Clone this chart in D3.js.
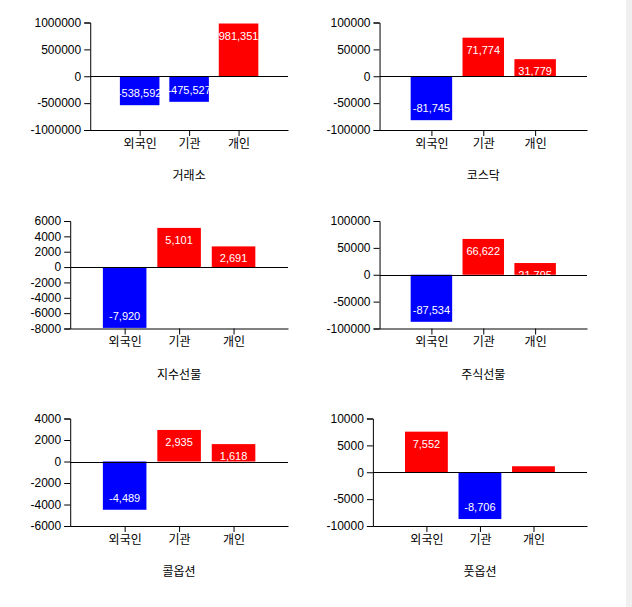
<!DOCTYPE html>
<html>
<head>
<meta charset="utf-8">
<script src="https://d3js.org/d3.v7.min.js"></script>
<style>
  body { margin: 0; overflow: hidden; background: #fff; }
  svg text { font-family: "Liberation Sans", "Noto Sans CJK KR", sans-serif; }
  .bar-label { fill: #fff; font-size: 11px; text-anchor: middle; }
  .scroll { position: fixed; right: 0; top: 0; width: 6px; height: 100%; background: #f0f0f0; }
</style>
</head>
<body>
<div id="charts"></div>
<div class="scroll"></div>
<script>
// categories
const investors = ['외국인', '기관', '개인'];
const markets = ['거래소', '코스닥', '지수선물', '주식선물', '콜옵션', '풋옵션'];

// net buying per investor, one array per market
const exchange = [-538592, -475527, 981351];
const kosdaq = [-81745, 71774, 31779];
const indexFutures = [-7920, 5101, 2691];
const stockFutures = [-87534, 66622, 21795];
const callOptions = [-4489, 2935, 1618];
const putOptions = [7552, -8706, 1117];

const series = [exchange, kosdaq, indexFutures, stockFutures, callOptions, putOptions];

// layout of the 2x3 grid
const colStart = [30, 326];
const colEnd = [288, 587];
const rowTop = [22.5, 221, 418.5];
const plotH = 107.5;

const svg = d3.select('#charts')
  .append('svg')
  .attr('width', 632)
  .attr('height', 607);

// plain hyphen for negatives, like the original
const locale = d3.formatLocale({
  decimal: '.',
  thousands: ',',
  grouping: [3],
  currency: ['', ''],
  minus: '-',
});
const fmt = locale.format(',');
const tickFmt = locale.format('d');

series.forEach((values, i) => {
  const col = i % 2;
  const row = Math.floor(i / 2);
  const top = rowTop[row];

  const y = d3.scaleLinear()
    .domain(d3.extent(values))
    .range([top + plotH, top])
    .nice(5);

  // y axis first so we can measure how much room the labels need
  const yAxis = svg.append('g')
    .call(d3.axisLeft(y).ticks(5).tickFormat(tickFmt));
  yAxis.selectAll('text').style('font-size', '12px').attr('fill', '#000');
  yAxis.select('.domain').attr('stroke', '#000');
  const left = colStart[col] + yAxis.node().getBBox().width;
  yAxis.attr('transform', `translate(${left},0)`);

  const x = d3.scalePoint()
    .domain(investors)
    .range([left, colEnd[col]])
    .padding(1);
  const barW = x.step() * 0.8;

  const data = investors.map((name, j) => ({ name, value: values[j] }));

  // bars
  svg.append('g')
    .selectAll('rect')
    .data(data)
    .join('rect')
    .attr('x', (d) => x(d.name) - barW / 2)
    .attr('y', (d) => y(Math.max(0, d.value)))
    .attr('width', barW)
    .attr('height', (d) => Math.abs(y(d.value) - y(0)))
    .attr('fill', (d) => (d.value < 0 ? '#0000ff' : '#ff0000'));

  // value labels, white, inside the bar end
  svg.append('g')
    .selectAll('text')
    .data(data)
    .join('text')
    .attr('class', 'bar-label')
    .attr('x', (d) => x(d.name))
    .attr('y', (d) => (d.value < 0 ? y(d.value) - 8 : y(d.value) + 16))
    .text((d) => fmt(d.value));

  // zero line
  svg.append('line')
    .attr('x1', left)
    .attr('x2', colEnd[col])
    .attr('y1', Math.round(y(0)) + 0.5)
    .attr('y2', Math.round(y(0)) + 0.5)
    .attr('stroke', '#000');

  // x axis
  const xAxis = svg.append('g')
    .attr('transform', `translate(0,${top + plotH})`)
    .call(d3.axisBottom(x).tickSizeOuter(0));
  xAxis.selectAll('text').style('font-size', '12px').attr('fill', '#000');

  // market title
  svg.append('text')
    .attr('x', (left + colEnd[col]) / 2)
    .attr('y', top + plotH + 50)
    .attr('text-anchor', 'middle')
    .style('font-size', '12px')
    .text(markets[i]);
});
</script>
</body>
</html>
